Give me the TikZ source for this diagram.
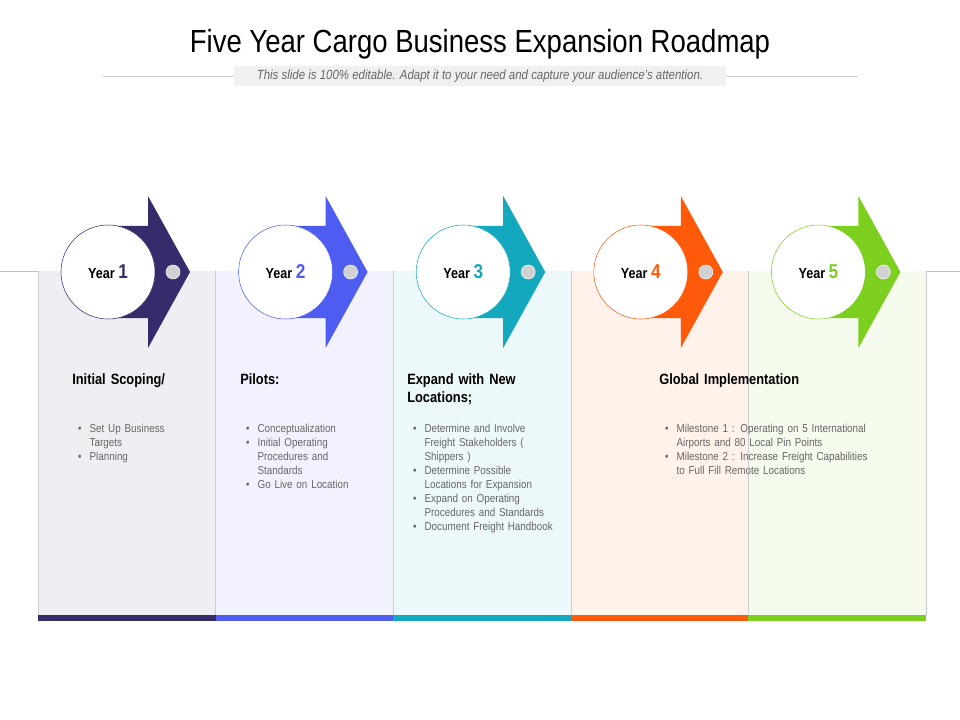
\documentclass[tikz,border=0pt]{standalone}
\usepackage{fontspec}
\setmainfont{Liberation Sans}[FakeStretch=0.86]
\begin{document}
\begin{tikzpicture}[x=0.75pt,y=-0.75pt]
\definecolor{cA}{HTML}{352C6B}
\definecolor{cB}{HTML}{4E5CF2}
\definecolor{cC}{HTML}{14A8BE}
\definecolor{cD}{HTML}{FF5A0A}
\definecolor{cE}{HTML}{7CCF1E}
\tikzset{
	head/.style={anchor=north west,font=\bfseries\fontsize{11.2}{14}\selectfont,align=left,text width=#1,inner sep=0pt},
	items/.style={anchor=north west,font=\fontsize{8.6}{10.5}\selectfont,text=black!60,align=left,text width=#1,inner sep=0pt},
	yearlbl/.style={font=\bfseries\fontsize{11}{12}\selectfont}
}
\newcommand\blist[1]{\hyphenpenalty=10000\begin{list}{\textbullet}{\leftmargin=11.5pt\labelsep=6pt\itemsep=0pt\parsep=0pt\topsep=0pt}#1\end{list}}
\useasboundingbox[fill=white] (0,0) rectangle (960,720);
% title
\node (title) at (480,44) {\fontsize{24}{26}\selectfont Five Year Cargo Business Expansion Roadmap};
\draw[black!20] (103,76) -- (858,76);
\node[fill=black!6,minimum width=492*0.75pt,minimum height=20*0.75pt,inner sep=0pt,font=\itshape\fontsize{10}{11}\selectfont,text=black!60] (sub) at (480,76) {This slide is 100\% editable. Adapt it to your need and capture your audience's attention.};
\draw[black!25] (0,271) -- (960,271);
% columns
\foreach \c [count=\i] in {cA,cB,cC,cD,cE}{
	\pgfmathsetmacro\xl{38+(\i-1)*177.6}
	\pgfmathsetmacro\xm{\xl+70}
	\fill[\c!8] (\xl,271) rectangle ++(177.6,344);
	\fill[\c] (\xl,615) rectangle ++(177.6,6);
	\draw[black!20] (\xl,271) -- ++(0,344);
	\fill[\c] (\xm,226) -- (\xm+40,226) -- (\xm+40,196) -- (\xm+82,272) -- (\xm+40,348) -- (\xm+40,318) -- (\xm,318) -- cycle;
	\node[circle,draw=\c,fill=white,minimum size=94*0.75pt,inner sep=0pt] (yr\i) at (\xm,272) {};
	\node[yearlbl] at (yr\i) {Year {\color{\c}\fontsize{15}{16}\selectfont\i}};
	\node[circle,fill=black!18,draw=white,minimum size=14*0.75pt,inner sep=0pt] (dot\i) at (\xm+65,272) {};
}
\draw[black!20] (926,271) -- (926,615);
% texts
\node[head=130*0.75pt] (h1) at (72,373) {Initial Scoping/};
\node[head=130*0.75pt] (h2) at (240,373) {Pilots:};
\node[head=130*0.75pt] (h3) at (407,373) {Expand with New\\Locations;};
\node[head=200*0.75pt] (h4) at (659,373) {Global Implementation};
\node[items=100*0.75pt] (b1) at (74,418) {\blist{\item Set Up Business Targets \item Planning}};
\node[items=120*0.75pt] (b2) at (242,418) {\blist{\item Conceptualization \item Initial Operating\\Procedures and\\Standards \item Go Live on Location}};
\node[items=160*0.75pt] (b3) at (409,418) {\blist{\item Determine and Involve\\Freight Stakeholders (\\Shippers ) \item Determine Possible\\Locations for Expansion \item Expand on Operating\\Procedures and Standards \item Document Freight Handbook}};
\node[items=230*0.75pt] (b4) at (661,418) {\blist{\item Milestone 1 : Operating on 5 International\\Airports and 80 Local Pin Points \item Milestone 2 : Increase Freight Capabilities\\to Full Fill Remote Locations}};
\end{tikzpicture}
\end{document}
